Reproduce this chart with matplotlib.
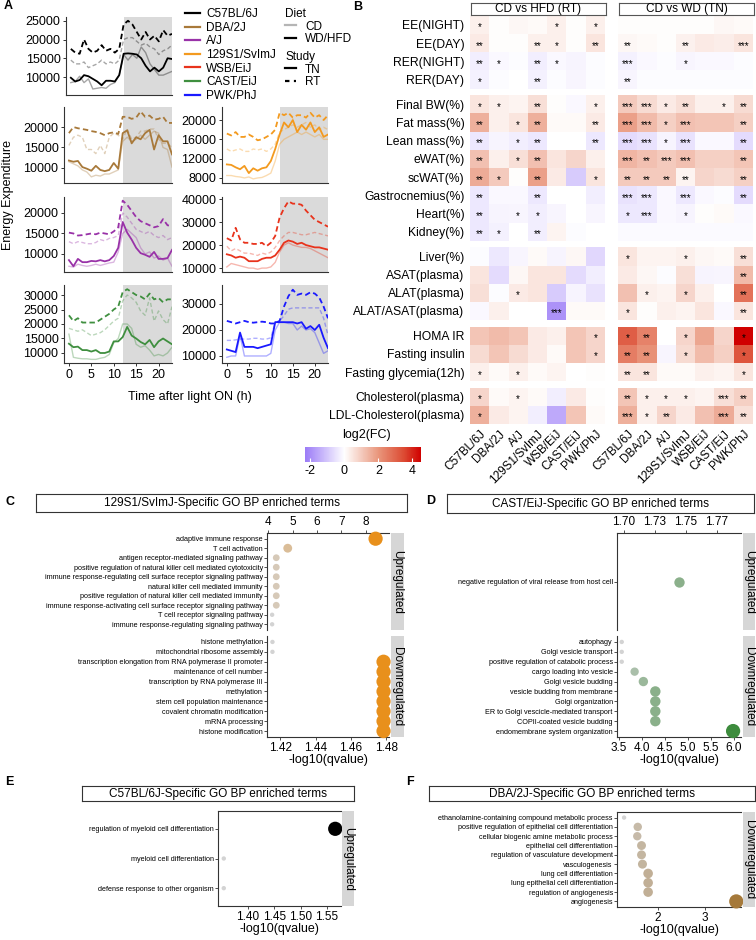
import numpy as np
import matplotlib.pyplot as plt
from matplotlib.colors import LinearSegmentedColormap, Normalize, to_rgb
from matplotlib.cm import ScalarMappable
from matplotlib.lines import Line2D

plt.rcParams['font.family'] = ['Liberation Sans', 'DejaVu Sans']
plt.rcParams['axes.unicode_minus'] = False

W, H = 756, 940

# ---------------- Panel A: energy expenditure over 24 h ----------------
hours = list(range(24))

b6_wd_rt = [17500, 16500, 16200, 20000, 17500, 16500, 17000, 18500, 17000, 17500, 16500, 17500,
            24000, 25000, 24000, 22000, 20000, 22000, 20000, 21000, 19500, 22500, 21000, 21500]
b6_cd_rt = [14500, 13500, 13500, 14000, 12500, 13000, 13500, 14500, 13500, 14000, 13500, 14500,
            20000, 20500, 20500, 19500, 18500, 19000, 18000, 17500, 16000, 17000, 17500, 18500]
b6_wd_tn = [9800, 8800, 9200, 10500, 10200, 9500, 8800, 7800, 9000, 9000, 8800, 10500,
            16200, 16300, 16200, 16000, 15000, 13000, 11500, 12500, 11500, 12500, 15000, 14800]
b6_cd_tn = [8500, 8800, 10200, 8500, 9500, 6800, 7000, 7200, 7000, 8000, 8500, 10500,
            16000, 14500, 16000, 15000, 18000, 16500, 13500, 12000, 10500, 10500, 11000, 11500]

dba_wd_rt = [18500, 20000, 19700, 19500, 19300, 19000, 18800, 18500, 18000, 18500, 18700, 18300,
             22500, 22500, 22000, 22300, 23800, 22500, 22800, 21800, 22000, 22500, 21000, 21000]
dba_cd_rt = [15500, 17500, 18000, 17500, 14500, 14500, 13500, 15500, 13500, 17500, 18500, 18000,
             17000, 19500, 17000, 17500, 19000, 19000, 19500, 19500, 17000, 16000, 16000, 15000]
dba_wd_tn = [11800, 11500, 11700, 10200, 9800, 9300, 10500, 9500, 9200, 9500, 11200, 9800,
             18500, 19200, 16000, 17500, 17000, 18500, 19300, 14500, 18000, 16500, 16500, 13300]
dba_cd_tn = [11500, 11000, 10500, 9500, 9000, 7800, 8200, 8000, 8500, 8500, 9000, 9500,
             16500, 17500, 16500, 17000, 18000, 17000, 18000, 19000, 18500, 15000, 14500, 10200]

aj_wd_rt = [15200, 15000, 14500, 14600, 14800, 15000, 14800, 15200, 15000, 14800, 15500, 16500,
            23000, 22000, 20500, 19000, 18000, 17500, 17000, 16500, 16800, 18500, 17000, 16800]
aj_cd_rt = [13000, 12500, 13000, 12800, 12500, 12500, 12800, 13500, 13200, 13800, 14000, 14500,
            20000, 19000, 17500, 16000, 15500, 15000, 15500, 14500, 14000, 14500, 13500, 14000]
aj_wd_tn = [8500, 7000, 8800, 8000, 8000, 8300, 8200, 8500, 8200, 8500, 9500, 11500,
            17800, 15200, 13500, 11500, 10200, 9800, 9300, 10500, 8800, 8800, 9000, 11000]
aj_cd_tn = [7000, 6800, 7500, 7200, 7000, 7200, 7500, 7200, 7500, 7800, 8000, 10500,
            15000, 16000, 15000, 14000, 11500, 10000, 10500, 9000, 9500, 8500, 9000, 7000]

s129_wd_rt = [17200, 16800, 17500, 16500, 16500, 17000, 16500, 15800, 16000, 16500, 17000, 18000,
              21500, 21000, 21500, 20500, 21000, 21000, 20500, 21500, 20500, 21000, 20000, 21000]
s129_cd_rt = [14000, 13500, 13800, 14000, 13500, 13500, 14000, 13800, 14000, 13500, 14000, 15000,
              17500, 18000, 18500, 19000, 18500, 19000, 19500, 18500, 19000, 18000, 18500, 18000]
s129_wd_tn = [10800, 10700, 10200, 9800, 10500, 9000, 10000, 9500, 10000, 10200, 11500, 14000,
              17000, 19500, 18500, 20000, 17500, 19000, 18000, 19500, 17500, 18500, 16500, 17000]
s129_cd_tn = [8500, 8500, 8300, 8200, 8000, 8200, 7800, 8000, 8100, 8500, 9000, 11500,
              15000, 16000, 16500, 17000, 17500, 17000, 17500, 17000, 16500, 17000, 16000, 16000]

wsb_wd_rt = [23000, 22000, 27500, 22500, 21000, 21000, 20500, 20500, 21000, 19500, 21000, 24000,
             32000, 36000, 39000, 38000, 38000, 37500, 35000, 33000, 31000, 30000, 29000, 28000]
wsb_cd_rt = [19500, 17500, 18500, 17500, 16500, 16500, 16000, 15500, 16500, 16000, 17000, 19000,
             22000, 24000, 25500, 25500, 25000, 24500, 24500, 25000, 25500, 25000, 24500, 24000]
wsb_wd_tn = [16000, 15500, 14500, 15000, 14500, 13000, 13000, 13000, 14000, 14500, 14500, 15500,
             18000, 21000, 22000, 21500, 20500, 21000, 20000, 19500, 19000, 19000, 18500, 18000]
wsb_cd_tn = [10500, 12000, 11500, 11000, 10500, 10000, 10000, 9500, 10000, 10000, 10500, 12500,
             17000, 20000, 21000, 20000, 19500, 19000, 19000, 18500, 17500, 16500, 15500, 14500]

cast_wd_rt = [23000, 21000, 22000, 20500, 20500, 20500, 20500, 21500, 22500, 23500, 25000, 26000,
              31000, 32000, 31000, 30000, 29500, 28500, 30500, 28500, 29000, 27500, 28500, 28500]
cast_cd_rt = [18500, 18000, 17500, 18000, 17000, 16000, 16500, 17000, 18000, 19500, 21000, 22000,
              28000, 30000, 29000, 27500, 24500, 23000, 29000, 21000, 24500, 21500, 20000, 26000]
cast_wd_tn = [13200, 12000, 12200, 11000, 11000, 10500, 11000, 10000, 10000, 10500, 14000, 14000,
              15500, 19000, 16000, 15000, 13800, 13000, 14500, 12000, 14000, 15000, 14000, 13000]
cast_cd_tn = [16500, 8500, 8200, 8000, 8000, 7800, 7800, 8200, 8500, 9500, 13500, 15000,
              20000, 20000, 18500, 13000, 12000, 12500, 11000, 9000, 9500, 9000, 10000, 12000]

pwk_wd_rt = [23500, 23000, 22500, 23000, 23500, 23000, 22800, 23000, 23200, 23000, 22500, 22500,
             23500, 29000, 33000, 35500, 33500, 34000, 33500, 34500, 34000, 32500, 29000, 24500]
pwk_cd_rt = [16000, 16000, 16200, 16500, 16500, 16500, 16800, 16800, 16500, 16500, 17000, 23000,
             23500, 25500, 28000, 28500, 28500, 28500, 28500, 28500, 28500, 28500, 24500, 18000]
pwk_wd_tn = [12500, 12000, 11500, 19000, 13500, 13500, 13500, 13000, 13500, 14000, 14500, 23000,
             23000, 23000, 23000, 23000, 22500, 23000, 20500, 21500, 20000, 22000, 17000, 13000]
pwk_cd_tn = [9500, 10000, 10000, 18000, 10000, 10000, 10000, 10000, 10000, 10000, 11000, 20000,
             23000, 23000, 22500, 22500, 20000, 21500, 20000, 20500, 19000, 15000, 11000, 12000]

strains = ["C57BL/6J", "DBA/2J", "A/J", "129S1/SvImJ", "WSB/EiJ", "CAST/EiJ", "PWK/PhJ"]
strain_colors = ["#000000", "#a8793a", "#9932a8", "#f39a1f", "#e8331c", "#3f8f3f", "#1a1aff"]

a_ylims = [(5200, 26000), (6300, 24900), (5600, 23900), (6950, 22700),
           (8300, 40900), (6550, 33450), (7300, 37300)]
a_yticks = [[10000, 15000, 20000, 25000], [10000, 15000, 20000], [10000, 15000, 20000],
            [8000, 12000, 16000, 20000], [10000, 20000, 30000, 40000],
            [10000, 15000, 20000, 25000, 30000], [10000, 20000, 30000]]

# ---------------- Panel B: log2 fold-change heatmaps ----------------
traits = ["EE(NIGHT)", "EE(DAY)", "RER(NIGHT)", "RER(DAY)",
          "Final BW(%)", "Fat mass(%)", "Lean mass(%)", "eWAT(%)", "scWAT(%)",
          "Gastrocnemius(%)", "Heart(%)", "Kidney(%)",
          "Liver(%)", "ASAT(plasma)", "ALAT(plasma)", "ALAT/ASAT(plasma)",
          "HOMA IR", "Fasting insulin", "Fasting glycemia(12h)",
          "Cholesterol(plasma)", "LDL-Cholesterol(plasma)"]
trait_groups = [4, 8, 4, 3, 2]

hfd_fc = [
    [0.30, 0.05, 0.15, 0.10, 0.30, 0.05, 0.30],
    [0.40, 0.05, 0.05, 0.30, 0.30, 0.05, 0.50],
    [-0.30, -0.10, -0.05, -0.30, -0.10, -0.20, -0.05],
    [-0.25, -0.05, 0.00, -0.25, -0.05, -0.15, -0.05],
    [0.50, 0.30, 0.20, 0.60, 0.05, -0.10, 0.30],
    [1.50, 0.30, 0.50, 1.50, 0.10, 0.10, 0.40],
    [-0.40, -0.20, -0.30, -0.40, 0.00, 0.00, -0.40],
    [1.20, 0.30, 0.60, 1.20, 0.50, 0.80, 0.30],
    [1.60, 1.00, 0.05, 1.80, 0.40, -0.90, 0.50],
    [-0.40, -0.10, -0.10, -0.40, 0.00, 0.00, -0.30],
    [-0.40, -0.20, -0.15, -0.30, -0.15, 0.00, -0.15],
    [-0.40, -0.25, 0.00, -0.30, 0.20, -0.05, 0.00],
    [-0.05, -0.40, -0.15, 0.10, -0.20, 0.15, -0.70],
    [0.50, -0.60, 0.15, 0.50, 0.50, -0.60, -0.30],
    [0.60, -0.05, 0.40, 0.50, -0.90, -0.20, -0.50],
    [-0.10, 0.30, 0.00, 0.00, -1.90, 0.10, 0.10],
    [1.10, 1.30, 1.10, 0.40, 0.30, 1.10, 0.80],
    [0.70, 1.10, 0.70, 0.40, 0.10, 1.10, 0.80],
    [0.30, 0.10, 0.30, 0.10, 0.20, 0.00, 0.05],
    [0.80, 0.10, 0.20, 0.10, -0.30, 0.40, 0.05],
    [1.50, 0.40, 0.20, -0.30, -1.50, 1.10, 0.10],
]
wd_fc = [
    [0.05, 0.05, 0.05, 0.05, 0.05, 0.15, 0.10],
    [0.15, 0.10, 0.05, 0.25, 0.40, 0.35, 0.50],
    [-0.25, -0.10, -0.05, -0.15, -0.10, -0.10, -0.05],
    [-0.15, -0.05, -0.05, -0.05, -0.05, -0.05, -0.05],
    [1.00, 0.70, 0.40, 0.60, 0.30, 0.30, 0.70],
    [1.80, 1.30, 0.90, 1.20, 1.10, 1.10, 0.90],
    [-0.60, -0.50, -0.20, -0.50, -0.10, -0.10, -0.60],
    [1.40, 1.20, 1.00, 1.20, 0.90, 0.90, 1.10],
    [1.00, 1.00, 1.00, 0.20, 0.80, 0.70, 0.90],
    [-0.50, -0.40, -0.10, -0.40, -0.10, -0.05, -0.60],
    [-0.40, -0.40, -0.10, -0.20, 0.05, 0.10, -0.10],
    [-0.08, -0.08, -0.08, -0.08, -0.08, -0.08, -0.08],
    [0.50, 0.20, 0.20, 0.30, 0.15, 0.10, 0.60],
    [0.40, 0.15, -0.05, 0.60, -0.20, -0.15, 1.30],
    [1.20, 0.30, 0.20, 0.80, 0.30, 0.00, 2.70],
    [0.50, 0.05, 0.30, 0.20, 0.50, -0.10, 0.50],
    [3.10, 2.40, 0.00, 0.80, 1.70, 0.80, 4.50],
    [2.50, 2.10, -0.15, 0.70, 1.30, 0.90, 3.30],
    [0.50, 0.50, 0.10, 0.10, 0.30, 0.20, 0.50],
    [1.10, 0.30, 0.30, 0.30, 0.20, 0.60, 0.90],
    [1.50, 0.30, 0.80, 0.40, 1.20, 1.60, 0.60],
]
hfd_sig = [
    ["*", "", "", "", "*", "", "*"],
    ["**", "", "", "**", "*", "", "**"],
    ["**", "*", "", "**", "*", "", ""],
    ["*", "", "", "**", "", "", ""],
    ["*", "*", "", "**", "", "", "*"],
    ["**", "", "*", "**", "", "", "**"],
    ["**", "", "*", "**", "", "", "**"],
    ["**", "", "*", "**", "", "", ""],
    ["**", "*", "", "**", "", "", "*"],
    ["**", "", "", "**", "", "", ""],
    ["**", "", "*", "*", "", "", ""],
    ["**", "*", "", "**", "", "", ""],
    ["", "", "", "", "", "", ""],
    ["", "", "", "", "", "", ""],
    ["", "", "*", "", "", "", ""],
    ["", "", "", "", "***", "", ""],
    ["", "", "", "", "", "", "*"],
    ["", "", "", "", "", "", "*"],
    ["*", "", "*", "", "", "", ""],
    ["*", "", "*", "", "", "", ""],
    ["*", "", "", "", "", "", ""],
]
wd_sig = [
    ["", "", "", "", "", "", ""],
    ["**", "", "", "**", "", "", "***"],
    ["***", "", "", "*", "", "", ""],
    ["**", "", "", "", "", "", ""],
    ["***", "***", "*", "**", "", "*", "**"],
    ["***", "***", "*", "***", "", "", "**"],
    ["***", "***", "*", "***", "", "", "**"],
    ["***", "**", "***", "***", "", "", "**"],
    ["**", "**", "**", "**", "", "", "**"],
    ["***", "***", "", "***", "", "", "**"],
    ["*", "***", "", "*", "", "", ""],
    ["", "", "", "", "", "", ""],
    ["*", "", "", "*", "", "", "**"],
    ["", "", "", "", "", "", "**"],
    ["", "*", "", "*", "", "", "**"],
    ["*", "", "", "", "", "", "**"],
    ["*", "**", "", "*", "", "", "*"],
    ["**", "**", "", "*", "", "", "*"],
    ["**", "**", "", "", "", "", "*"],
    ["**", "*", "*", "*", "", "***", "**"],
    ["***", "*", "**", "", "", "***", "**"],
]

# ---------------- Panels C-F: GO BP enrichment ----------------
c_up_terms = ["adaptive immune response", "T cell activation",
              "antigen receptor-mediated signaling pathway",
              "positive regulation of natural killer cell mediated cytotoxicity",
              "immune response-regulating cell surface receptor signaling pathway",
              "natural killer cell mediated immunity",
              "positive regulation of natural killer cell mediated immunity",
              "immune response-activating cell surface receptor signaling pathway",
              "T cell receptor signaling pathway", "immune response-regulating signaling pathway"]
c_up_vals = [8.40, 4.80, 4.33, 4.33, 4.33, 4.33, 4.33, 4.33, 4.16, 4.16]
c_down_terms = ["histone methylation", "mitochondrial ribosome assembly",
                "transcription elongation from RNA polymerase II promoter",
                "maintenance of cell number", "transcription by RNA polymerase III",
                "methylation", "stem cell population maintenance",
                "covalent chromatin modification", "mRNA processing", "histone modification"]
c_down_vals = [1.4155, 1.4155, 1.4785, 1.4785, 1.4785, 1.4785, 1.4785, 1.4785, 1.4785, 1.4785]

d_up_terms = ["negative regulation of viral release from host cell"]
d_up_vals = [1.744]
d_down_terms = ["autophagy", "Golgi vesicle transport", "positive regulation of catabolic process",
                "cargo loading into vesicle", "Golgi vesicle budding", "vesicle budding from membrane",
                "Golgi organization", "ER to Golgi vescicle-mediated transport",
                "COPII-coated vesicle budding", "endomembrane system organization"]
d_down_vals = [3.56, 3.56, 3.56, 3.84, 4.03, 4.29, 4.29, 4.29, 4.29, 5.98]

e_terms = ["regulation of myeloid cell differentiation", "myeloid cell differentiation",
           "defense response to other organism"]
e_vals = [1.566, 1.354, 1.354]

f_terms = ["ethanolamine-containing compound metabolic process",
           "positive regulation of epithelial cell differentiation",
           "cellular biogenic amine metabolic process", "epithelial cell differentiation",
           "regulation of vasculature development", "vasculogenesis", "lung cell differentiation",
           "lung epithelial cell differentiation", "regulation of angiogenesis", "angiogenesis"]
f_vals = [1.28, 1.57, 1.56, 1.65, 1.65, 1.67, 1.79, 1.79, 1.79, 3.66]

# =====================================================================
fig = plt.figure(figsize=(W / 100, H / 100), dpi=100)


def px_axes(x0, y0, x1, y1):
    return fig.add_axes([x0 / W, 1 - y1 / H, (x1 - x0) / W, (y1 - y0) / H])


def ftext(x, y, s, **kw):
    fig.text(x / W, 1 - y / H, s, **kw)


def label_box(x0, y0, x1, y1, text, face, edge=None, rot=0, size=8.5):
    a = px_axes(x0, y0, x1, y1)
    a.set_xticks([])
    a.set_yticks([])
    a.set_facecolor(face)
    for s in a.spines.values():
        s.set_visible(edge is not None)
        if edge is not None:
            s.set_color(edge)
            s.set_linewidth(0.8)
    a.text(0.5, 0.5, text, ha='center', va='center', rotation=rot, fontsize=size,
           transform=a.transAxes)
    return a


# ---- Panel A ----
a_series = [(b6_wd_rt, b6_cd_rt, b6_wd_tn, b6_cd_tn),
            (dba_wd_rt, dba_cd_rt, dba_wd_tn, dba_cd_tn),
            (aj_wd_rt, aj_cd_rt, aj_wd_tn, aj_cd_tn),
            (s129_wd_rt, s129_cd_rt, s129_wd_tn, s129_cd_tn),
            (wsb_wd_rt, wsb_cd_rt, wsb_wd_tn, wsb_cd_tn),
            (cast_wd_rt, cast_cd_rt, cast_wd_tn, cast_cd_tn),
            (pwk_wd_rt, pwk_cd_rt, pwk_wd_tn, pwk_cd_tn)]
a_boxes = [(66, 17, 172, 95), (64, 107, 172, 183), (64, 197, 172, 272), (222, 107, 328, 183),
           (222, 197, 328, 272), (64, 285, 172, 363), (222, 285, 328, 363)]
dash = (0, (3, 1.8))
for i, (wd_rt, cd_rt, wd_tn, cd_tn) in enumerate(a_series):
    ax = px_axes(*a_boxes[i])
    c = strain_colors[i]
    ax.axvspan(12, 23, color='#dadada', lw=0, zorder=0)
    ax.plot(hours, cd_rt, color=c, alpha=0.35, ls=dash, lw=1.0)
    ax.plot(hours, cd_tn, color=c, alpha=0.35, lw=1.0)
    ax.plot(hours, wd_rt, color=c, ls=dash, lw=1.3)
    ax.plot(hours, wd_tn, color=c, lw=1.3)
    ax.set_xlim(-1.1, 23)
    ax.set_ylim(*a_ylims[i])
    ax.set_yticks(a_yticks[i], [str(t) for t in a_yticks[i]])
    ax.set_xticks([0, 5, 10, 15, 20])
    for s in ['top', 'right']:
        ax.spines[s].set_visible(False)
    for s in ['left', 'bottom']:
        ax.spines[s].set_linewidth(0.8)
        ax.spines[s].set_color('#333333')
    ax.tick_params(labelsize=9, length=2.5, width=0.7, pad=1.5, color='#333333')
    if i < 5:
        ax.tick_params(axis='x', length=0, labelbottom=False)

ftext(4, 6, 'A', fontsize=9, fontweight='bold', va='center')
ftext(8, 195, 'Energy Expenditure', rotation=90, fontsize=9, ha='center', va='center')
ftext(190, 397, 'Time after light ON (h)', fontsize=9, ha='center', va='center')

strain_handles = [Line2D([], [], color=c, lw=1.6) for c in strain_colors]
fig.legend(strain_handles, strains, loc='upper left', bbox_to_anchor=(185 / W, 1 - 8 / H),
           frameon=False, fontsize=8.5, handlelength=1.3, handletextpad=0.5,
           labelspacing=0.14, borderaxespad=0, borderpad=0)
diet_handles = [Line2D([], [], color='#b5b5b5', lw=1.6), Line2D([], [], color='black', lw=1.6)]
fig.legend(diet_handles, ['CD', 'WD/HFD'], title='Diet', loc='upper left',
           bbox_to_anchor=(285 / W, 1 - 8 / H), frameon=False, fontsize=8.5, title_fontsize=8.5,
           handlelength=0.9, handletextpad=0.8, labelspacing=0.05, borderaxespad=0, borderpad=0,
           alignment='left')
study_handles = [Line2D([], [], color='black', lw=1.6),
                 Line2D([], [], color='black', lw=1.6, ls=(0, (2, 2)))]
fig.legend(study_handles, ['TN', 'RT'], title='Study', loc='upper left',
           bbox_to_anchor=(285 / W, 1 - 51 / H), frameon=False, fontsize=8.5, title_fontsize=8.5,
           handlelength=0.9, handletextpad=0.8, labelspacing=0.05, borderaxespad=0, borderpad=0,
           alignment='left')

# ---- Panel B ----
vmin, vmax = -2.3, 4.5


def cpos(v):
    return (v - vmin) / (vmax - vmin)


fc_cmap = LinearSegmentedColormap.from_list(
    'fc', [(0, '#9b7bf7'), (cpos(0), '#ffffff'), (cpos(2), '#e9967c'),
           (cpos(3.5), '#dc4b33'), (1, '#d00000')])
fc_norm = Normalize(vmin, vmax)

gap = 6.5 / 18.2
row_y = []
yy = 0.0
for n in trait_groups:
    for k in range(n):
        row_y.append(yy)
        yy += 1
    yy += gap
total = yy - gap

for p, (vals, sig, x0, title) in enumerate([(hfd_fc, hfd_sig, 470, 'CD vs HFD (RT)'),
                                            (wd_fc, wd_sig, 618, 'CD vs WD (TN)')]):
    ax = px_axes(x0, 15.9, x0 + 135, 424.1)
    for r, y0 in enumerate(row_y):
        ax.pcolormesh(np.arange(8), [y0, y0 + 1], np.array(vals[r])[None, :],
                      cmap=fc_cmap, norm=fc_norm)
        for j, s in enumerate(sig[r]):
            if s:
                ax.text(j + 0.5, y0 + 0.64, s, ha='center', va='center', fontsize=7)
    ax.set_xlim(0, 7)
    ax.set_ylim(total, 0)
    for s in ax.spines.values():
        s.set_visible(False)
    ax.set_xticks(np.arange(7) + 0.5)
    ax.set_xticklabels(strains, rotation=45, ha='right', rotation_mode='anchor', fontsize=8.5)
    ax.tick_params(axis='x', length=0, pad=3)
    if p == 0:
        ax.set_yticks([y + 0.5 for y in row_y], traits, fontsize=8.7)
        ax.tick_params(axis='y', length=0, pad=4)
    else:
        ax.set_yticks([])
    label_box(x0 + 1, 3, x0 + 136, 15, title, 'white', '#555555', size=8.5)

ftext(353, 7, 'B', fontsize=9, fontweight='bold', va='center')

cax = px_axes(305, 447, 421, 462)
cb = fig.colorbar(ScalarMappable(norm=fc_norm, cmap=fc_cmap), cax=cax, orientation='horizontal',
                  ticks=[-2, 0, 2, 4])
cb.outline.set_visible(False)
cax.tick_params(axis='x', color='white', direction='in', length=3, labelsize=9, pad=2,
                labelcolor='black')
ftext(366, 435, 'log2(FC)', fontsize=9, ha='center', va='center')

# ---- Panels C-F ----
grey_base = np.array(to_rgb('#d3d3d3'))


def go_facet(box, terms, vals, color, xlim, ticks, ticklabels, where):
    ax = px_axes(*box)
    v = np.array(vals, dtype=float)
    if v.max() > v.min():
        t = ((v - v.min()) / (v.max() - v.min())) ** 0.6
    else:
        t = np.full(len(v), 0.48)
    cols = grey_base * (1 - t[:, None]) + np.array(to_rgb(color)) * t[:, None]
    ax.scatter(v, np.arange(len(v)), s=10 + 95 * t, c=cols, lw=0, clip_on=False, zorder=3)
    ax.set_xlim(*xlim)
    ax.set_ylim(len(v) - 0.4, -0.6)
    ax.set_yticks(np.arange(len(v)), terms)
    ax.set_xticks(ticks, ticklabels)
    ax.spines['right'].set_visible(False)
    ax.spines['top'].set_visible(where in ('top', 'both'))
    ax.spines['bottom'].set_visible(where in ('bottom', 'both'))
    if where == 'top':
        ax.xaxis.tick_top()
    for s in ax.spines.values():
        s.set_linewidth(0.8)
        s.set_color('#333333')
    ax.tick_params(axis='x', labelsize=8.5, length=2.5, width=0.6, pad=1, color='#333333')
    ax.tick_params(axis='y', labelsize=5.2, length=2, width=0.6, pad=1, color='#333333')
    if where != 'top':
        ax.set_xlabel('-log10(qvalue)', fontsize=9, labelpad=0)
    return ax


strip_grey = '#d6d6d6'

# C
label_box(36, 494, 407, 512, '129S1/SvImJ-Specific GO BP enriched terms', 'white', '#333333')
go_facet((267, 533, 389, 630), c_up_terms, c_up_vals, '#e8901c', (3.95, 8.95),
         [4, 5, 6, 7, 8], ['4', '5', '6', '7', '8'], 'top')
go_facet((267, 636, 389, 737), c_down_terms, c_down_vals, '#e8901c', (1.4124, 1.4816),
         [1.42, 1.44, 1.46, 1.48], ['1.42', '1.44', '1.46', '1.48'], 'bottom')
label_box(391, 533, 404, 630, 'Upregulated', strip_grey, rot=-90)
label_box(391, 636, 404, 737, 'Downregulated', strip_grey, rot=-90)
ftext(5, 502, 'C', fontsize=9, fontweight='bold', va='center')

# D
label_box(447, 494, 754, 513, 'CAST/EiJ-Specific GO BP enriched terms', 'white', '#333333')
go_facet((617, 533, 741, 630), d_up_terms, d_up_vals, '#3d8b3d', (1.6944, 1.7944),
         [1.700, 1.725, 1.750, 1.775], ['1.70', '1.73', '1.75', '1.77'], 'top')
go_facet((617, 636, 741, 737), d_down_terms, d_down_vals, '#3d8b3d', (3.457, 6.152),
         [3.5, 4.0, 4.5, 5.0, 5.5, 6.0], ['3.5', '4.0', '4.5', '5.0', '5.5', '6.0'], 'bottom')
label_box(743, 533, 755, 630, 'Upregulated', strip_grey, rot=-90)
label_box(743, 636, 755, 737, 'Downregulated', strip_grey, rot=-90)
ftext(426, 501, 'D', fontsize=9, fontweight='bold', va='center')

# E
label_box(82, 786, 354, 801, 'C57BL/6J-Specific GO BP enriched terms', 'white', '#333333')
go_facet((218, 811, 341, 906), e_terms, e_vals, '#000000', (1.343, 1.577),
         [1.40, 1.45, 1.50, 1.55], ['1.40', '1.45', '1.50', '1.55'], 'both')
label_box(342, 811, 354, 906, 'Upregulated', strip_grey, rot=-90)
ftext(5, 782, 'E', fontsize=9, fontweight='bold', va='center')

# F
label_box(429, 786, 755, 801, 'DBA/2J-Specific GO BP enriched terms', 'white', '#333333')
go_facet((617, 812, 741, 907), f_terms, f_vals, '#a5793a', (1.13, 3.76),
         [2, 3], ['2', '3'], 'both')
label_box(743, 812, 755, 907, 'Downregulated', strip_grey, rot=-90)
ftext(406, 782, 'F', fontsize=9, fontweight='bold', va='center')

fig.savefig('out.png', dpi=100)
